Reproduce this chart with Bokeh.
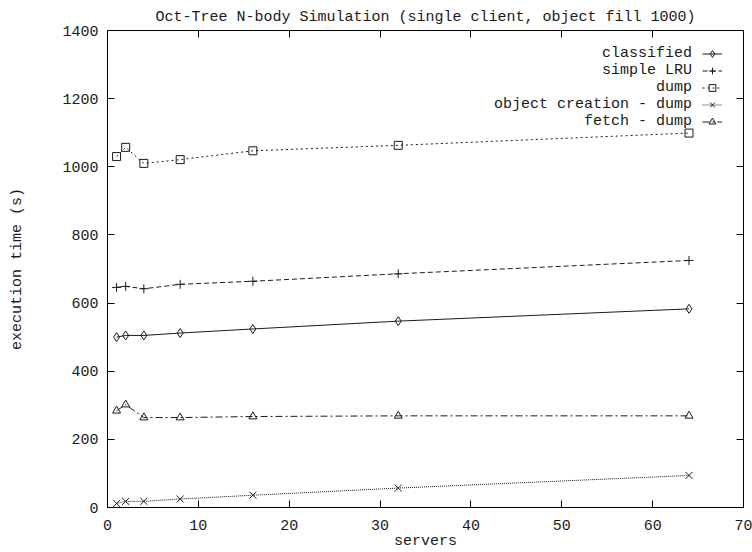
from bokeh.plotting import figure
from bokeh.models import Range1d, LinearAxis, FixedTicker, Legend, LegendItem, Label
from bokeh.embed import file_html
from bokeh.resources import INLINE
from bokeh.core.properties import value

servers = [1, 2, 4, 8, 16, 32, 64]
classified = [500, 505, 505, 512, 524, 547, 583]
simple_lru = [646, 649, 642, 655, 664, 686, 725]
dump = [1030, 1057, 1010, 1021, 1047, 1063, 1099]
object_creation_dump = [12, 18, 18, 25, 36, 57, 94]
fetch_dump = [284, 302, 264, 264, 267, 269, 269]

series_names = ["classified", "simple LRU", "dump", "object creation - dump", "fetch - dump"]
series_values = [classified, simple_lru, dump, object_creation_dump, fetch_dump]
x_ticks = [0, 10, 20, 30, 40, 50, 60, 70]
y_ticks = [0, 200, 400, 600, 800, 1000, 1200, 1400]
title_text = "Oct-Tree N-body Simulation (single client, object fill 1000)"

styles = [
    ("solid", "diamond", 9),
    ("5 3", "cross", 9),
    ("2 3", "square", 8),
    ("1 1", "x", 10),
    ("7 3 2 3", "triangle", 8),
]

FONT = "Liberation Mono"
FS = "15px"
INK = "#1a1a1a"

p = figure(width=752, height=552, x_range=Range1d(0, 70), y_range=Range1d(0, 1400),
           output_backend="svg", toolbar_location=None,
           min_border_left=107, min_border_right=9, min_border_top=30, min_border_bottom=44)

p.title.text = title_text
p.title.align = "center"
p.title.text_font = FONT
p.title.text_font_size = FS
p.title.text_font_style = "normal"
p.title.text_color = INK
p.title.standoff = 10

p.grid.visible = False
p.outline_line_color = "black"
p.outline_line_width = 1
p.background_fill_color = "white"
p.border_fill_color = "white"

p.xaxis.ticker = FixedTicker(ticks=x_ticks)
p.yaxis.ticker = FixedTicker(ticks=y_ticks)
p.xaxis.axis_label = "servers"
p.yaxis.axis_label = "execution time (s)"

for ax in [p.xaxis[0], p.yaxis[0]]:
    ax.major_tick_in = 7
    ax.major_tick_out = 0
    ax.minor_tick_in = 0
    ax.minor_tick_out = 0
    ax.axis_line_color = "black"
    ax.major_tick_line_color = "black"
    ax.major_label_text_font = FONT
    ax.major_label_text_font_size = FS
    ax.major_label_text_color = INK
    ax.axis_label_text_font = FONT
    ax.axis_label_text_font_size = FS
    ax.axis_label_text_font_style = "normal"
    ax.axis_label_text_color = INK

p.xaxis.major_label_standoff = 12
p.xaxis.axis_label_standoff = 0
p.yaxis.major_label_standoff = 9
p.yaxis.axis_label_standoff = 33

# mirrored inward ticks on top and right (no labels)
for loc in ["above", "right"]:
    ax = LinearAxis(ticker=FixedTicker(ticks=x_ticks if loc == "above" else y_ticks))
    ax.major_tick_in = 7
    ax.major_tick_out = 0
    ax.minor_tick_in = 0
    ax.minor_tick_out = 0
    ax.major_label_text_font_size = "1px"
    ax.major_label_text_color = None
    ax.major_label_standoff = 0
    ax.axis_line_color = None
    ax.major_tick_line_color = "black"
    p.add_layout(ax, loc)

items = []
for name, vals, (dash, marker, size) in zip(series_names, series_values, styles):
    lr = p.line(servers, vals, line_color=INK, line_width=1, line_dash=dash)
    sr = p.scatter(servers, vals, marker=marker, size=size, line_color=INK,
                   fill_color=None, line_width=1)
    items.append(LegendItem(label=value(" "), renderers=[lr, sr]))

legend = Legend(items=items, location=(595, 377), glyph_width=20, glyph_height=17,
                label_width=0, label_height=17, label_standoff=0, spacing=0, padding=0,
                margin=0, border_line_color=None, background_fill_alpha=0,
                label_text_font=FONT, label_text_font_size="1px", label_text_color=None)
p.add_layout(legend, "center")

for i, name in enumerate(series_names):
    p.add_layout(Label(x=584.5, y=454 - 17 * i, x_units="screen", y_units="screen",
                       text=name, text_align="right", text_baseline="middle",
                       text_font=FONT, text_font_size=FS, text_color=INK))

open("out.html", "w").write(file_html(p, INLINE))
